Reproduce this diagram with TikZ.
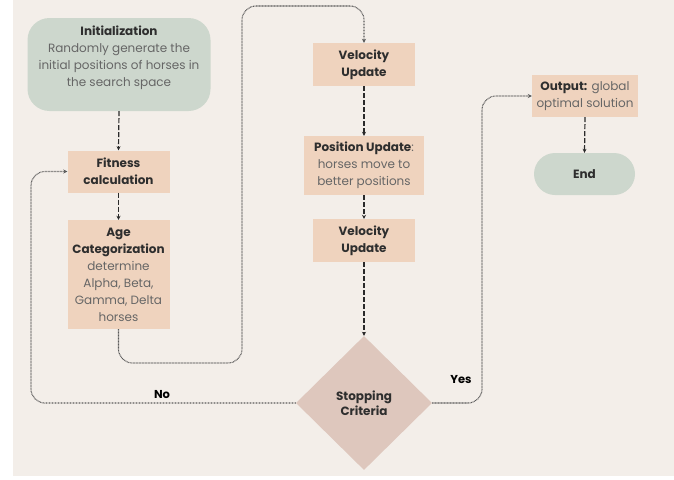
\documentclass[tikz,border=0pt]{standalone}
\usepackage{fontspec}
\setmainfont{Poppins}
\usetikzlibrary{shapes.geometric,arrows.meta}
\definecolor{bgc}{HTML}{F3EEE9}
\definecolor{peach}{HTML}{EFD3BE}
\definecolor{sage}{HTML}{CDD7CD}
\definecolor{rose}{HTML}{DEC7BD}
\definecolor{titc}{HTML}{2E2E2E}
\definecolor{bodc}{HTML}{666666}
\definecolor{linec}{HTML}{2A2A2A}
\definecolor{dotc}{HTML}{5A5A5A}
\tikzset{
  base/.style={align=center, inner sep=1pt, font=\fontsize{12}{17}\selectfont, text=titc},
  peachbox/.style={base, fill=peach},
  sagebox/.style={base, fill=sage},
  dasharrow/.style={draw=linec, line width=1.2pt, dash pattern=on 5pt off 2pt, -{Stealth[length=4pt,width=4pt]}},
  dotarrow/.style={draw=dotc, line width=1.1pt, dash pattern=on 0.8pt off 0.7pt, rounded corners=14pt, -{Stealth[length=4pt,width=4pt]}},
  lbl/.style={font=\fontsize{11.5}{13}\selectfont\bfseries, text=black}
}
\newcommand{\bd}[1]{\textcolor{bodc}{#1}}
\begin{document}
\begin{tikzpicture}[x=1pt,y=-1pt]
\useasboundingbox (0,0) rectangle (674,479);
\fill[white] (0,0) rectangle (674,479);
\fill[bgc] (13,0) rectangle (674,476);

\node[sagebox, rounded corners=22pt, minimum width=183pt, minimum height=93pt] (init) at (119,64.5)
  {\textbf{Initialization}\\\bd{Randomly generate the}\\\bd{initial positions of horses in}\\\bd{the search space}\\\mbox{}};
\node[peachbox, minimum width=102pt, minimum height=42pt] (fit) at (118.5,171.5)
  {\textbf{Fitness}\\\textbf{calculation}};
\node[peachbox, minimum width=102pt, minimum height=109pt] (age) at (118.5,274.5)
  {\textbf{Age}\\\textbf{Categorization}\\\bd{determine}\\\bd{Alpha, Beta,}\\\bd{Gamma, Delta}\\\bd{horses}};
\node[peachbox, minimum width=102pt, minimum height=43pt] (vel1) at (364,64.5)
  {\textbf{Velocity}\\\textbf{Update}};
\node[peachbox, minimum width=120pt, minimum height=59pt] (pos) at (364,165.5)
  {\textbf{Position Update}\bd{:}\\\bd{horses move to}\\\bd{better positions}};
\node[peachbox, minimum width=102pt, minimum height=43pt] (vel2) at (364,240.5)
  {\textbf{Velocity}\\\textbf{Update}};
\node[diamond, fill=rose, inner sep=0pt, minimum width=136pt, minimum height=134pt, align=center,
  font=\fontsize{12}{15}\selectfont\bfseries, text=titc] (crit) at (364,403)
  {Stopping\\Criteria};
\node[peachbox, minimum width=106pt, minimum height=42pt] (out) at (585,96)
  {\textbf{Output:} \bd{global}\\\bd{optimal solution}};
\node[sagebox, rounded corners=21pt, minimum width=101pt, minimum height=42pt] (end) at (584.5,174)
  {\textbf{End}};

\coordinate (k1) at (242,363);
\coordinate (k2) at (364,6);
\coordinate (kL) at (31,171.5);
\coordinate (kR) at (482,96);

\draw[dasharrow] (init.south) -- (fit.north);
\draw[dasharrow] (fit.south) -- (age.north);
\draw[dasharrow] (vel1.south) -- (pos.north);
\draw[dasharrow] (pos.south) -- (vel2.north);
\draw[dasharrow] (vel2.south) -- (crit.north);
\draw[dasharrow] (out.south) -- (end.north);

\draw[dotarrow] (age.south) |- (k1) |- (k2) -- (vel1.north);
\draw[dotarrow] (crit.west) -| (kL) -- (fit.west);
\draw[dotarrow] (crit.east) -| (kR) -- (out.west);

\node[lbl] (no) at (162,395) {No};
\node[lbl] (yes) at (461,380) {Yes};
\end{tikzpicture}
\end{document}
